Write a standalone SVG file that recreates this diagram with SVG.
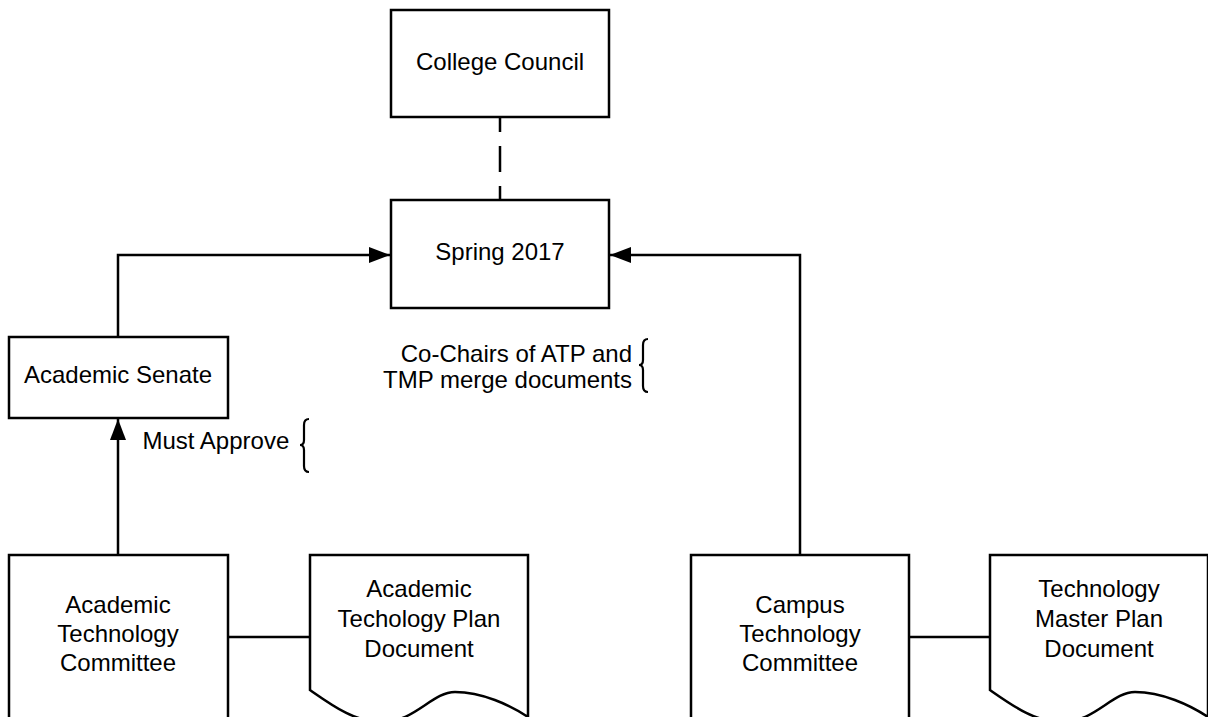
<svg xmlns="http://www.w3.org/2000/svg" width="1208" height="717" viewBox="0 0 1208 717">
<style>
.box{fill:#fff;stroke:#000;stroke-width:2.5}
.ln{fill:none;stroke:#000;stroke-width:2.5}
.br{fill:none;stroke:#000;stroke-width:2.2}
.t{font-family:"Liberation Sans",Arial,sans-serif;font-size:24px;fill:#000;text-anchor:middle}
.tr{font-family:"Liberation Sans",Arial,sans-serif;font-size:24px;fill:#000;text-anchor:end}
.ts{font-family:"Liberation Sans",Arial,sans-serif;font-size:24px;fill:#000;text-anchor:start}
</style>
<defs>
<marker id="arr" markerUnits="userSpaceOnUse" markerWidth="22" markerHeight="16" refX="21" refY="8" orient="auto">
<path d="M0,0 L21,8 L0,16 Z" fill="#000"/>
</marker>
</defs>
<rect width="1208" height="717" fill="#fff"/>
<g id="connectors">
<line class="ln" x1="500" y1="118" x2="500" y2="200" stroke-dasharray="26 14" stroke-dashoffset="12"/>
<path class="ln" d="M118,337 V255 H390" marker-end="url(#arr)"/>
<path class="ln" d="M800,555 V255 H610" marker-end="url(#arr)"/>
<line class="ln" x1="118" y1="555" x2="118" y2="419" marker-end="url(#arr)"/>
<line class="ln" x1="228" y1="637" x2="310" y2="637"/>
<line class="ln" x1="909" y1="637" x2="990" y2="637"/>
</g>
<g id="college-council">
<rect class="box" x="391" y="10" width="218" height="107"/>
<text class="t" x="500" y="69.5">College Council</text>
</g>
<g id="spring-2017">
<rect class="box" x="391" y="200" width="218" height="108"/>
<text class="t" x="500" y="260">Spring 2017</text>
</g>
<g id="academic-senate">
<rect class="box" x="9" y="337" width="219" height="81"/>
<text class="t" x="118" y="383">Academic Senate</text>
</g>
<g id="academic-technology-committee">
<rect class="box" x="9" y="555" width="219" height="180"/>
<text class="t" x="118" y="612.7">Academic</text>
<text class="t" x="118" y="641.7">Technology</text>
<text class="t" x="118" y="670.7">Committee</text>
</g>
<g id="atp-document">
<path class="box" d="M310,555 H528 V730 L528,717 C510,705 482,692 455,692 C432,692 415,722 382,722 C355,722 333,706 310,690 Z"/>
<text class="t" x="419" y="596.7">Academic</text>
<text class="t" x="419" y="627">Techology Plan</text>
<text class="t" x="419" y="657.3">Document</text>
</g>
<g id="campus-technology-committee">
<rect class="box" x="691" y="555" width="218" height="180"/>
<text class="t" x="800" y="612.7">Campus</text>
<text class="t" x="800" y="641.7">Technology</text>
<text class="t" x="800" y="670.7">Committee</text>
</g>
<g id="tmp-document">
<path class="box" d="M990,555 H1208 V730 L1208,717 C1190,705 1162,692 1135,692 C1112,692 1095,722 1062,722 C1035,722 1013,706 990,690 Z"/>
<text class="t" x="1099" y="596.7">Technology</text>
<text class="t" x="1099" y="627">Master Plan</text>
<text class="t" x="1099" y="657.3">Document</text>
</g>
<g id="must-approve">
<text class="ts" x="142.5" y="449">Must Approve</text>
<path class="br" d="M309,419 Q304,419 304,425 V440 Q304,445 300,445 Q304,445 304,450 V466 Q304,472 309,472"/>
</g>
<g id="co-chairs">
<text class="tr" x="632" y="362">Co-Chairs of ATP and</text>
<text class="tr" x="632" y="388">TMP merge documents</text>
<path class="br" d="M648,339 Q643,339 643,345 V360 Q643,365 639,365 Q643,365 643,370 V386 Q643,392 648,392"/>
</g>
</svg>
